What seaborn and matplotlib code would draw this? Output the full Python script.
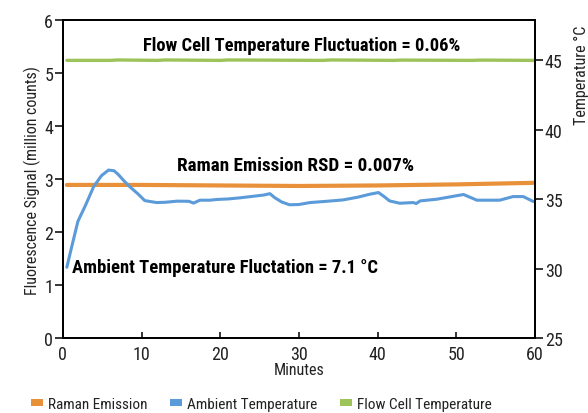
import numpy as np
import pandas as pd
import matplotlib
matplotlib.use('Agg')
import matplotlib.pyplot as plt
from matplotlib.patches import Patch
import seaborn as sns

# ── Data ──────────────────────────────────────────────────────
raman_min = [0.5, 10, 20, 30, 40, 50, 60]
raman_signal = [2.89, 2.89, 2.88, 2.87, 2.88, 2.90, 2.93]   # million counts

amb_min = [0.5, 1.0, 1.9, 2.9, 3.9, 4.9, 5.8, 6.5, 7.0, 7.8, 8.5, 9.6, 10.4, 11.9,
           13.0, 14.5, 16.0, 16.6, 17.4, 18.7, 19.5, 21.0, 22.5, 24.0, 25.5, 26.3,
           26.9, 27.8, 28.8, 30.0, 31.4, 33.5, 35.6, 37.5, 39.0, 40.1, 40.8, 41.5,
           42.8, 44.5, 44.9, 45.4, 47.5, 49.2, 50.9, 51.7, 52.6, 55.5, 57.2, 58.5, 59.8]
amb_temp = [30.1, 31.3, 33.4, 34.6, 35.9, 36.7, 37.1, 37.05, 36.8, 36.3, 35.9, 35.35,
            34.9, 34.76, 34.78, 34.86, 34.85, 34.72, 34.93, 34.93, 34.98, 35.02, 35.1,
            35.2, 35.3, 35.4, 35.12, 34.8, 34.6, 34.62, 34.76, 34.85, 34.95, 35.15,
            35.36, 35.48, 35.2, 34.88, 34.71, 34.76, 34.69, 34.88, 35.0, 35.17, 35.34,
            35.15, 34.93, 34.93, 35.19, 35.19, 34.83]   # deg C

flow_min = [0.5, 6, 7, 12, 13, 20, 21, 33, 34, 42, 43, 52, 53, 60]
flow_temp = [45.0, 45.0, 45.03, 45.0, 45.03, 45.0, 45.03, 45.0, 45.03, 45.0, 45.02, 45.0, 45.02, 45.0]

series_names = ['Raman Emission', 'Ambient Temperature', 'Flow Cell Temperature']
colors = ['#e8913a', '#5b9bd9', '#9dc35a']

# ── Style ─────────────────────────────────────────────────────
sns.set_style('ticks')
plt.rcParams['font.family'] = ['Roboto Condensed', 'DejaVu Sans']
plt.rcParams['axes.linewidth'] = 1.3
plt.rcParams['text.color'] = '#222222'

fig = plt.figure(figsize=(5.88, 4.14), dpi=100)
ax = fig.add_axes([0.107, 0.181, 0.803, 0.768])
ax2 = ax.twinx()

sns.lineplot(x=raman_min, y=raman_signal, ax=ax, color=colors[0], lw=3)
sns.lineplot(x=amb_min, y=amb_temp, ax=ax2, color=colors[1], lw=2.2)
sns.lineplot(x=flow_min, y=flow_temp, ax=ax2, color=colors[2], lw=2.4)

ax.set_xlim(0, 60)
ax.set_ylim(0, 6)
ax2.set_ylim(25, 47.9)
ax.set_xticks(range(0, 61, 10))
ax.set_yticks(range(0, 7))
ax2.set_yticks(range(25, 46, 5))

ax.tick_params(axis='x', direction='in', length=4, width=1.3, labelsize=13, pad=5,
               labelcolor='#222222')
ax.tick_params(axis='y', direction='out', length=6, width=1.3, labelsize=13, pad=1,
               labelcolor='#222222')
ax2.tick_params(axis='y', direction='out', length=6, width=1.3, labelsize=13, pad=1,
                labelcolor='#222222')
for a in (ax, ax2):
    for s in a.spines.values():
        s.set_visible(True)
        s.set_color('black')

ax.set_xlabel('Minutes', fontsize=11.5, labelpad=-1, color='#222222')
ax.set_ylabel('Fluorescence Signal (million counts)', fontsize=11.5, labelpad=2,
              color='#222222')
ax2.set_ylabel('Temperature °C', fontsize=11.5, color='#222222')
ax2.yaxis.set_label_coords(1.082, 0.83)

# annotations
ax.text(30.4, 5.53, 'Flow Cell Temperature Fluctuation = 0.06%', ha='center', va='center',
        fontsize=13.3, fontweight='bold', color='black')
ax.text(29.5, 3.26, 'Raman Emission RSD = 0.007%', ha='center', va='center',
        fontsize=13.8, fontweight='bold', color='black')
ax.text(1.1, 1.34, 'Ambient Temperature Fluctation = 7.1 °C', ha='left', va='center',
        fontsize=13.4, fontweight='bold', color='black')

handles = [Patch(facecolor=c, edgecolor='none') for c in colors]
fig.legend(handles, series_names, loc='center', bbox_to_anchor=(0.444, 0.022), ncol=3,
           frameon=False, fontsize=11, handlelength=0.8, handleheight=0.35,
           handletextpad=0.3, columnspacing=1.5, borderpad=0)

fig.savefig('out.png', dpi=100)
